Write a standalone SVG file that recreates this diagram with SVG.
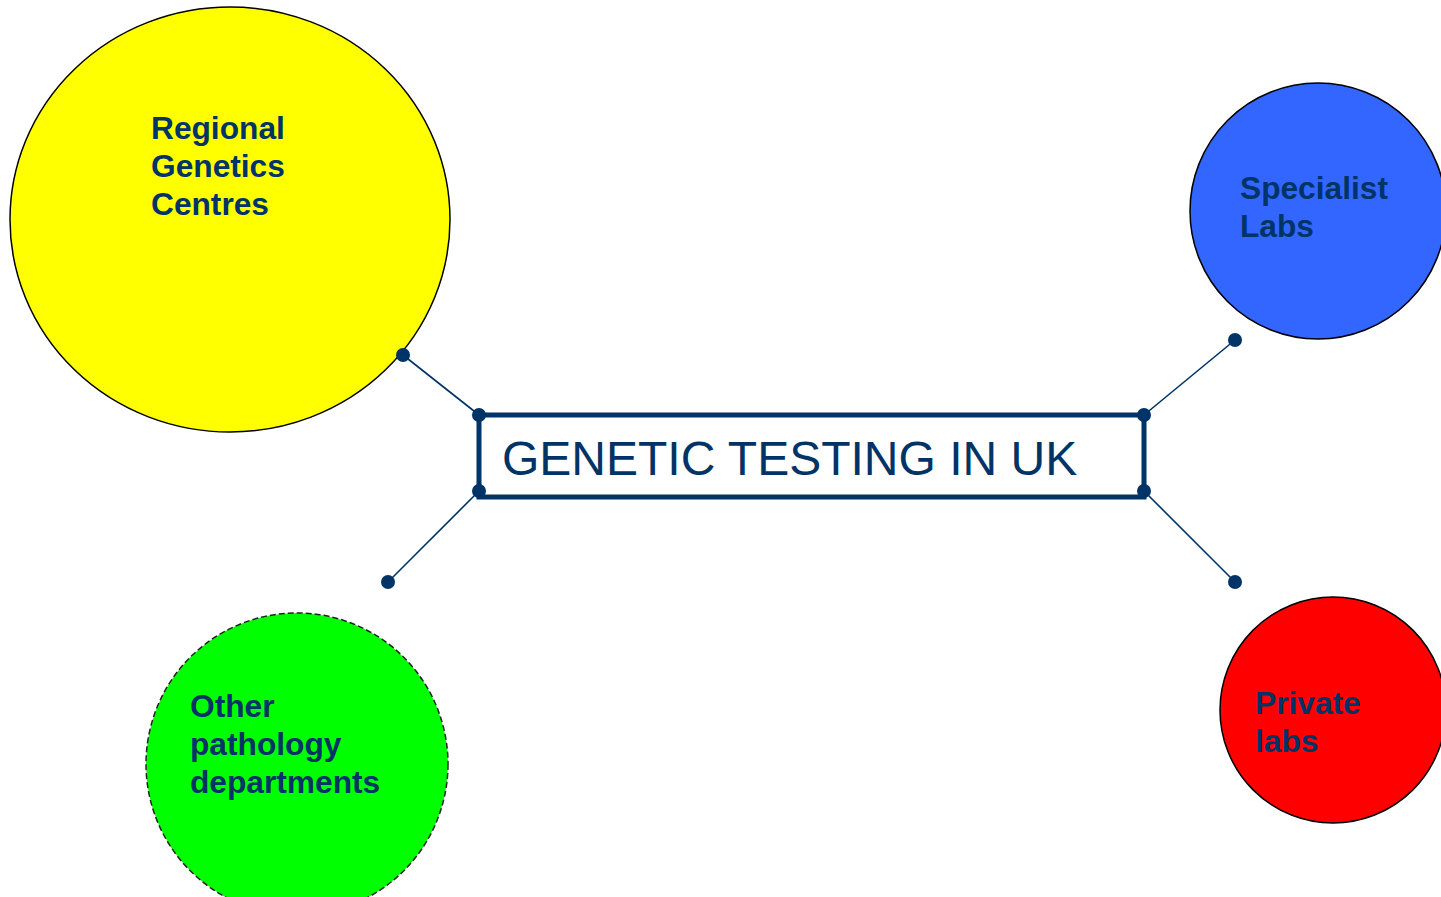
<svg xmlns="http://www.w3.org/2000/svg" width="1441" height="897" viewBox="0 0 1441 897">
<style>
.lbl{font-family:"Liberation Sans",Arial,sans-serif;font-weight:bold;font-size:31.7px;fill:#003366}
.title{font-family:"Liberation Sans",Arial,sans-serif;font-size:48px;fill:#003366}
.conn line{stroke:#003366;stroke-width:1.6}
.dot{fill:#003366}
.ring{stroke:#000;stroke-width:1.5}
</style>
<rect width="1441" height="897" fill="#fff"/>
<g id="regional">
<ellipse class="ring" cx="230" cy="219.5" rx="220" ry="212.5" fill="#ffff00"/>
<text class="lbl"><tspan x="151" y="139">Regional</tspan><tspan x="151" y="177">Genetics</tspan><tspan x="151" y="215">Centres</tspan></text>
</g>
<g id="specialist">
<circle class="ring" cx="1318" cy="211" r="128" fill="#3366ff"/>
<text class="lbl"><tspan x="1240" y="199">Specialist</tspan><tspan x="1240" y="237">Labs</tspan></text>
</g>
<g id="other">
<circle cx="297" cy="764" r="151" fill="#00ff00" stroke="#222" stroke-width="1.5" stroke-dasharray="6,3"/>
<text class="lbl"><tspan x="190" y="717">Other</tspan><tspan x="190" y="755">pathology</tspan><tspan x="190" y="793">departments</tspan></text>
</g>
<g id="private">
<circle class="ring" cx="1333" cy="710" r="113" fill="#ff0000"/>
<text class="lbl"><tspan x="1255" y="714">Private</tspan><tspan x="1255" y="752">labs</tspan></text>
</g>
<g id="connectors">
<g class="conn">
<line x1="403" y1="355" x2="479" y2="415"/>
<line x1="388" y1="582" x2="479" y2="491"/>
<line x1="1235" y1="340" x2="1144" y2="415"/>
<line x1="1235" y1="582" x2="1144" y2="491"/>
</g>
<circle class="dot" cx="403" cy="355" r="7"/>
<circle class="dot" cx="388" cy="582" r="7"/>
<circle class="dot" cx="1235" cy="340" r="7"/>
<circle class="dot" cx="1235" cy="582" r="7"/>
</g>
<g id="center">
<rect x="479" y="415" width="665" height="82" fill="#fff" stroke="#003366" stroke-width="5"/>
<text class="title" x="502" y="475">GENETIC TESTING IN UK</text>
<circle class="dot" cx="479" cy="415" r="7"/>
<circle class="dot" cx="479" cy="491" r="7"/>
<circle class="dot" cx="1144" cy="415" r="7"/>
<circle class="dot" cx="1144" cy="491" r="7"/>
</g>
</svg>
